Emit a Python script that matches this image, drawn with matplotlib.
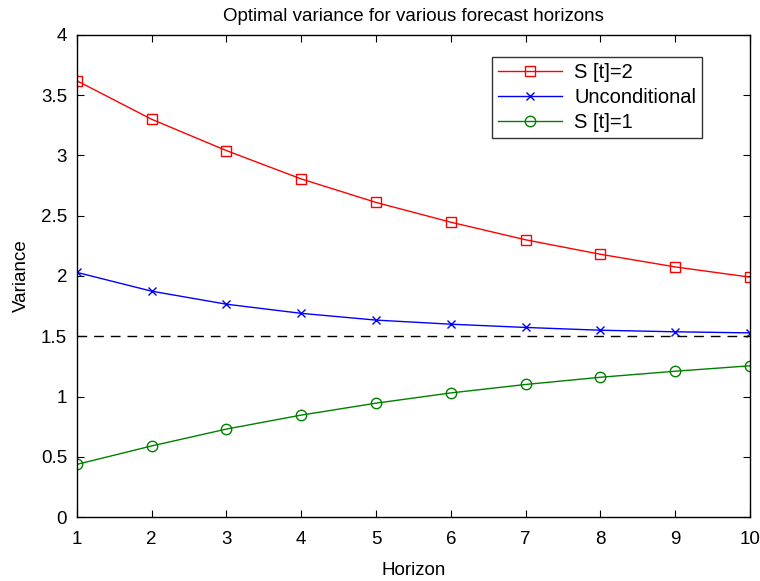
import numpy as np
import matplotlib
matplotlib.use("Agg")
import matplotlib.pyplot as plt

plt.rcParams['font.family'] = ['Liberation Sans', 'DejaVu Sans']

# DATOS
horizon = [1, 2, 3, 4, 5, 6, 7, 8, 9, 10]
var_s2 = [3.62, 3.30, 3.04, 2.805, 2.61, 2.446, 2.30, 2.18, 2.075, 1.99]
var_unc = [2.03, 1.874, 1.766, 1.69, 1.634, 1.60, 1.573, 1.55, 1.537, 1.528]
var_s1 = [0.437, 0.59, 0.73, 0.846, 0.945, 1.03, 1.10, 1.16, 1.21, 1.255]
long_run = 1.5

fig = plt.figure(figsize=(7.6, 5.81), dpi=100)
ax = fig.add_axes([0.101, 0.110, 0.886, 0.830])

ax.plot(horizon, var_s2, color="red", marker="s", markersize=7,
        markerfacecolor="none", linewidth=1, label="S [t]=2")
ax.plot(horizon, var_unc, color="blue", marker="x", markersize=6,
        linewidth=1, label="Unconditional")
ax.plot(horizon, var_s1, color="green", marker="o", markersize=7.5,
        markerfacecolor="none", linewidth=1, label="S [t]=1")
ax.plot([horizon[0], horizon[-1]], [long_run, long_run], color="black",
        linestyle=(0, (7, 5)), linewidth=1)

ax.set_xlim(1, 10)
ax.set_ylim(0, 4)
ax.set_xticks(horizon)
ax.set_yticks(np.arange(0, 4.01, 0.5))
ax.set_yticklabels(["0", "0.5", "1", "1.5", "2", "2.5", "3", "3.5", "4"])
ax.tick_params(direction="in", labelsize=13.5, length=5, top=True, right=True)
ax.tick_params(axis="x", pad=10)
ax.tick_params(axis="y", pad=7)
for s in ax.spines.values():
    s.set_linewidth(1)

ax.set_title("Optimal variance for various forecast horizons", fontsize=13.5, pad=10)
ax.set_xlabel("Horizon", fontsize=13.5, labelpad=10)
ax.set_ylabel("Variance", fontsize=13.5, labelpad=8)

leg = ax.legend(loc="upper right", bbox_to_anchor=(0.929, 0.954),
                fontsize=14.5, fancybox=False, edgecolor="black",
                handlelength=3.2, handletextpad=0.6, borderpad=0.3,
                labelspacing=0.3, borderaxespad=0)
leg.get_frame().set_linewidth(1)

fig.savefig("out.png", dpi=100)
